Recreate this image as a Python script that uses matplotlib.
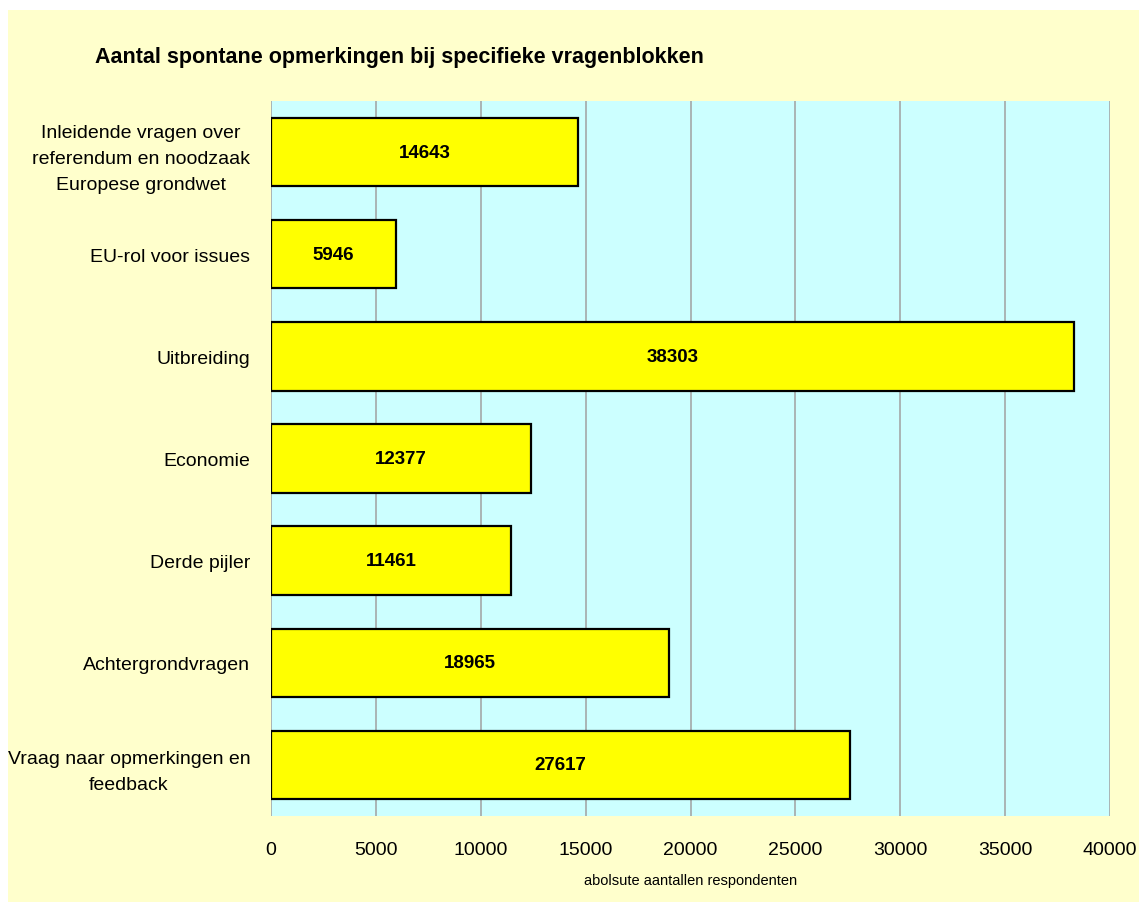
"""
Aantal spontane opmerkingen bij specifieke vragenblokken.
"""

import matplotlib
matplotlib.use("Agg")
import matplotlib.pyplot as plt
from matplotlib.patches import Rectangle


categories = [
    "Inleidende vragen over\nreferendum en noodzaak\nEuropese grondwet",
    "EU-rol voor issues",
    "Uitbreiding",
    "Economie",
    "Derde pijler",
    "Achtergrondvragen",
    "Vraag naar opmerkingen en\nfeedback",
]
values = [14643, 5946, 38303, 12377, 11461, 18965, 27617]
xticks = [0, 5000, 10000, 15000, 20000, 25000, 30000, 35000, 40000]


def main():
    plt.rcParams["font.family"] = ["Liberation Sans", "DejaVu Sans"]

    fig = plt.figure(figsize=(11.39, 9.03), dpi=100, facecolor="white")

    # Pale yellow chart panel (white strip at top and left)
    panel = Rectangle((8 / 1139, 0), 1 - 8 / 1139, 892 / 903,
                      transform=fig.transFigure,
                      facecolor="#FFFFCC", edgecolor="none", zorder=-10)
    fig.add_artist(panel)

    ax = fig.add_axes([271 / 1139, 86 / 903, 839 / 1139, 715 / 903])
    ax.set_zorder(5)
    ax.set_facecolor("#CCFFFF")

    pos = list(range(len(categories)))
    ax.barh(pos, values, height=0.67, color="#FFFF00",
            edgecolor="black", linewidth=1.6, zorder=3)

    for p, v in zip(pos, values):
        ax.text(v / 2, p, str(v), ha="center", va="center",
                fontsize=13.5, fontweight="bold", zorder=4)

    ax.set_xlim(0, 40000)
    ax.set_ylim(len(categories) - 0.5, -0.5)

    ax.set_xticks(xticks)
    ax.set_xticklabels([str(t) for t in xticks], fontsize=14)
    ax.set_yticks(pos)
    ax.set_yticklabels(categories, fontsize=14, multialignment="center",
                       linespacing=1.7)
    ax.tick_params(axis="both", length=0)
    ax.tick_params(axis="x", pad=18)
    ax.tick_params(axis="y", pad=15)

    ax.xaxis.grid(True, color="#A0A0A0", linewidth=1.1, zorder=1)
    ax.set_axisbelow(True)
    for s in ax.spines.values():
        s.set_visible(False)

    ax.set_xlabel("abolsute aantallen respondenten", fontsize=10.5,
                  labelpad=11)

    fig.text(95 / 1139, 1 - 57 / 903,
             "Aantal spontane opmerkingen bij specifieke vragenblokken",
             ha="left", va="center", fontsize=15.5, fontweight="bold",
             zorder=6)

    fig.savefig("out.png", dpi=100, facecolor=fig.get_facecolor())


if __name__ == "__main__":
    main()
